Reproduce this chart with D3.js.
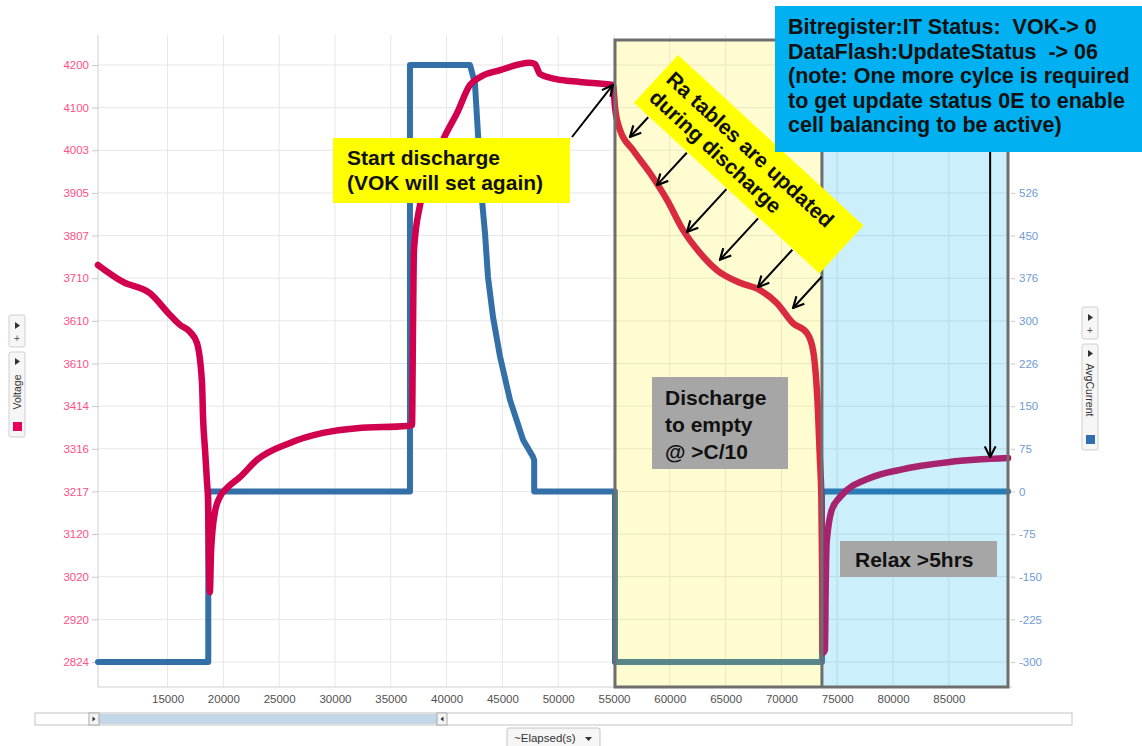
<!DOCTYPE html>
<html>
<head>
<meta charset="utf-8">
<script src="https://cdn.jsdelivr.net/npm/d3@7"></script>
<style>
  body { margin: 0; background: #fff; font-family: "Liberation Sans", Arial, sans-serif; }
  .note text { font-weight: bold; fill: #111; white-space: pre; }
</style>
</head>
<body>
<div class="svgs"></div>
<script>
// elapsed seconds / mV
const voltageTime = [8770, 11010, 13430, 15220, 16120, 17010, 17640, 18090, 18180, 18360, 18540, 18630,
  18710, 18790, 18900, 19250, 19700, 20330, 21490, 23020, 25970, 28930, 31970, 36450, 36900, 36990,
  37080, 37620, 38510, 39680, 40930, 42100, 42990, 44790, 47470, 47920, 48370, 49710, 51950, 54910,
  55090, 55540, 56700, 58220, 59750, 61180, 62700, 64230, 66290, 68080, 69600, 71030, 72290, 72830,
  73270, 73450, 73580, 73670, 73720, 73900, 73960, 74050, 74500, 75240, 77930, 80620, 85100, 90300]
const voltageMv = [3739, 3700, 3674, 3624, 3601, 3585, 3559, 3467, 3389, 3313, 3237, 3197,
  3060, 2985, 3080, 3170, 3205, 3225, 3250, 3290, 3329, 3352, 3363, 3368, 3370, 3589,
  3774, 3877, 3946, 4027, 4089, 4154, 4172, 4188, 4205, 4202, 4179, 4168, 4161, 4154,
  4103, 4050, 4004, 3951, 3889, 3820, 3767, 3727, 3698, 3681, 3651, 3605, 3582, 3543,
  3405, 3290, 3200, 2990, 2845, 2852, 2983, 3098, 3174, 3204, 3248, 3267, 3285, 3294]

// elapsed seconds / mA
const currentTime = [8770, 18650, 18650, 36720, 36720, 42100, 42540, 42810, 43170, 43440, 43710, 44160,
  44790, 45680, 46850, 47740, 47850, 47850, 55090, 55090, 73630, 73630, 90300]
const currentMa = [-300, -300, 0, 0, 750, 750, 718, 630, 513, 455, 377, 307,
  237, 161, 91, 61, 55, 0, 0, -300, -300, 0, 0]

const elapsedTicks = [15000, 20000, 25000, 30000, 35000, 40000, 45000, 50000, 55000, 60000, 65000, 70000, 75000, 80000, 85000]
const voltageTickLabels = ["2824", "2920", "3020", "3120", "3217", "3316", "3414", "3610", "3610", "3710", "3807", "3905", "4003", "4100", "4200"]
const currentTickValues = [-300, -225, -150, -75, 0, 75, 150, 225, 300, 375, 450, 525, 600, 675, 750]
// top three labels sit under the blue note
const currentTickLabels = ["-300", "-225", "-150", "-75", "0", "75", "150", "226", "300", "376", "450", "526", "", "", ""]

// test phases (elapsed seconds)
const phaseStart = [55090, 73630]
const phaseEnd = [73630, 90300]
const phaseFill = ["#fff000", "#00b0f0"]
const phaseAlpha = [0.18, 0.2]

// arrow tips on the voltage curve
const raTipTime = [56430, 58850, 61540, 64490, 67900, 71040]
const raTipMv = [4034, 3923, 3815, 3751, 3688, 3640]

const W = 1142, H = 746
const plot = {left: 98, right: 1008, top: 35, bottom: 687}

const voltage = voltageTime.map((t, i) => ({t, v: voltageMv[i]}))
const current = currentTime.map((t, i) => ({t, v: currentMa[i]}))

const x = d3.scaleLinear().domain([8770, 90300]).range([plot.left, plot.right])
const yV = d3.scaleLinear().domain([2824, 4200]).range([662, 65])
const yI = d3.scaleLinear().domain([-300, 750]).range([662, 65])
const voltageTicks = voltageTickLabels.map((d, i) => 2824 + i * (4200 - 2824) / 14)

const svg = d3.create("svg")
    .attr("width", W)
    .attr("height", H)
    .attr("viewBox", [0, 0, W, H])
    .style("font-family", '"Liberation Sans", Arial, sans-serif')

const defs = svg.append("defs")
defs.append("marker")
    .attr("id", "arrow")
    .attr("viewBox", "0 0 12 12")
    .attr("refX", 11).attr("refY", 6)
    .attr("markerWidth", 13).attr("markerHeight", 13)
    .attr("markerUnits", "userSpaceOnUse")
    .attr("orient", "auto")
  .append("path")
    .attr("d", "M1,1 L11,6 L1,11")
    .attr("fill", "none")
    .attr("stroke", "#000")
    .attr("stroke-width", 2)

// grid
svg.append("g")
    .selectAll("line")
    .data(elapsedTicks)
    .join("line")
    .attr("x1", d => x(d)).attr("x2", d => x(d))
    .attr("y1", plot.top).attr("y2", plot.bottom)
    .attr("stroke", "#e7e7e7")

svg.append("g")
    .selectAll("line")
    .data(currentTickValues)
    .join("line")
    .attr("x1", plot.left).attr("x2", plot.right)
    .attr("y1", d => yI(d)).attr("y2", d => yI(d))
    .attr("stroke", "#e7e7e7")

// frame lines
svg.append("line")
    .attr("x1", plot.left).attr("x2", plot.left)
    .attr("y1", plot.top).attr("y2", plot.bottom)
    .attr("stroke", "#cfcfcf")
svg.append("line")
    .attr("x1", plot.left).attr("x2", plot.right + 4)
    .attr("y1", plot.bottom).attr("y2", plot.bottom)
    .attr("stroke", "#cfcfcf")

// axes
svg.append("g")
    .attr("transform", `translate(${plot.left},0)`)
    .call(d3.axisLeft(yV).tickValues(voltageTicks).tickFormat((d, i) => voltageTickLabels[i]).tickSize(6).tickPadding(3))
    .call(g => g.select(".domain").remove())
    .call(g => g.selectAll(".tick line").attr("stroke", "#c8c8c8"))
    .call(g => g.selectAll(".tick text").attr("fill", "#ff4f86").style("font-size", "11.5px"))

svg.append("g")
    .attr("transform", `translate(${plot.right + 3},0)`)
    .call(d3.axisRight(yI).tickValues(currentTickValues).tickFormat((d, i) => currentTickLabels[i]).tickSize(4).tickPadding(4))
    .call(g => g.select(".domain").remove())
    .call(g => g.selectAll(".tick line").attr("stroke", "#c8c8c8"))
    .call(g => g.selectAll(".tick text").attr("fill", "#6f9bd6").style("font-size", "11.5px"))

svg.append("g")
    .attr("transform", `translate(0,${plot.bottom})`)
    .call(d3.axisBottom(x).tickValues(elapsedTicks).tickFormat(d3.format("d")).tickSize(0).tickPadding(8))
    .call(g => g.select(".domain").remove())
    .call(g => g.selectAll(".tick text").attr("fill", "#505050").style("font-size", "11.5px"))

// series
const currentLine = d3.line()
    .x(d => x(d.t))
    .y(d => yI(d.v))

const voltageLine = d3.line()
    .x(d => x(d.t))
    .y(d => yV(d.v))
    .curve(d3.curveMonotoneX)

svg.append("path")
    .datum(current)
    .attr("fill", "none")
    .attr("stroke", "#3470a8")
    .attr("stroke-width", 6)
    .attr("stroke-linejoin", "round")
    .attr("stroke-linecap", "round")
    .attr("d", currentLine)

svg.append("path")
    .datum(voltage)
    .attr("fill", "none")
    .attr("stroke", "#d1004e")
    .attr("stroke-width", 6.5)
    .attr("stroke-linejoin", "round")
    .attr("stroke-linecap", "round")
    .attr("d", voltageLine)

// phase overlays
svg.append("g")
    .selectAll("rect")
    .data(phaseStart)
    .join("rect")
    .attr("x", d => x(d))
    .attr("y", plot.top + 5)
    .attr("width", (d, i) => x(phaseEnd[i]) - x(d))
    .attr("height", plot.bottom - plot.top - 5)
    .attr("fill", (d, i) => phaseFill[i])
    .attr("fill-opacity", (d, i) => phaseAlpha[i])

svg.append("rect")
    .attr("x", x(phaseStart[0]))
    .attr("y", plot.top + 5)
    .attr("width", x(phaseEnd[1]) - x(phaseStart[0]))
    .attr("height", plot.bottom - plot.top - 5)
    .attr("fill", "none")
    .attr("stroke", "#6e6e6e")
    .attr("stroke-width", 3)
svg.append("line")
    .attr("x1", x(phaseStart[1])).attr("x2", x(phaseStart[1]))
    .attr("y1", plot.top + 5).attr("y2", plot.bottom)
    .attr("stroke", "#6e6e6e")
    .attr("stroke-width", 3)

// annotations
const note = svg.append("g").attr("class", "note").style("font-size", "21px")

function box(g, bx, by, bw, bh, fill, lines, tx, ty0, dy) {
    g.append("rect").attr("x", bx).attr("y", by).attr("width", bw).attr("height", bh).attr("fill", fill)
    lines.forEach((t, i) => g.append("text").attr("x", tx).attr("y", ty0 + i * dy).text(t))
}

// start discharge
box(note, 333, 138, 237, 65, "#ffff00", ["Start discharge", "(VOK will set again)"], 347, 165, 25)
note.append("line")
    .attr("x1", 572).attr("y1", 137)
    .attr("x2", x(54900)).attr("y2", yV(4154))
    .attr("stroke", "#000").attr("stroke-width", 2)
    .attr("marker-end", "url(#arrow)")

// Ra tables box, rotated
const ang = 42.6, ra = ang * Math.PI / 180, ox = 678, oy = 55
const raG = note.append("g").attr("transform", `translate(${ox},${oy}) rotate(${ang})`)
box(raG, 0, 0, 252, 65, "#ffff00", ["Ra tables are updated", "during discharge"], 8, 28, 25)
raTipTime.forEach((t, i) => {
    const px = x(t) - ox, py = yV(raTipMv[i]) - oy
    const lx = px * Math.cos(ra) + py * Math.sin(ra)
    const ly = -px * Math.sin(ra) + py * Math.cos(ra)
    raG.append("line")
        .attr("x1", lx).attr("y1", 66)
        .attr("x2", lx).attr("y2", ly)
        .attr("stroke", "#000").attr("stroke-width", 2)
        .attr("marker-end", "url(#arrow)")
})

box(note, 652, 377, 136, 92, "#a6a6a6", ["Discharge", "to empty", "@ >C/10"], 665, 405, 27)
box(note, 840, 541, 157, 36, "#a6a6a6", ["Relax >5hrs"], 855, 567, 0)

note.append("line")
    .attr("x1", x(88700)).attr("y1", 150)
    .attr("x2", x(88700)).attr("y2", yV(3296))
    .attr("stroke", "#000").attr("stroke-width", 2)
    .attr("marker-end", "url(#arrow)")

const blue = note.append("g").style("font-size", "21.5px")
box(blue, 775, 6, 380, 146, "#00b0f0",
    ["Bitregister:IT Status:  VOK-> 0", "DataFlash:UpdateStatus  -> 06", "(note: One more cylce is required",
     "to get update status 0E to enable", "cell balancing to be active)"], 788, 34, 24.5)

// side legend controls
function legend(gx, label, color, rot) {
    const g = svg.append("g").style("font-size", "10px")
    const top = rot < 0 ? 315 : 307
    g.append("rect").attr("x", gx).attr("y", top).attr("width", 16).attr("height", 32)
        .attr("rx", 2).attr("fill", "#f6f6f6").attr("stroke", "#cfcfcf")
    g.append("path").attr("d", `M${gx + 6},${top + 7} l5,3.5 l-5,3.5z`).attr("fill", "#333")
    g.append("text").attr("x", gx + 8).attr("y", top + 27).attr("text-anchor", "middle").attr("fill", "#555").text("+")
    const t2 = top + 37, h2 = rot < 0 ? 85 : 106
    g.append("rect").attr("x", gx).attr("y", t2).attr("width", 16).attr("height", h2)
        .attr("rx", 2).attr("fill", "#f6f6f6").attr("stroke", "#cfcfcf")
    g.append("path").attr("d", `M${gx + 6},${t2 + 6} l5,3.5 l-5,3.5z`).attr("fill", "#333")
    g.append("rect").attr("x", gx + 4).attr("y", t2 + h2 - 15).attr("width", 9).attr("height", 9).attr("fill", color)
    const cy = rot < 0 ? t2 + 40 : t2 + 46
    g.append("text")
        .attr("transform", `translate(${gx + 8},${cy}) rotate(${rot})`)
        .attr("text-anchor", "middle").attr("dy", "0.35em")
        .attr("fill", "#333").style("font-size", "10.5px")
        .text(label)
}
legend(9, "Voltage", "#e8005a", -90)
legend(1082, "AvgCurrent", "#2f6fb0", 90)

// range scrollbar
const sb = svg.append("g")
sb.append("rect").attr("x", 35).attr("y", 713).attr("width", 1037).attr("height", 12)
    .attr("fill", "#fff").attr("stroke", "#c4c4c4")
sb.append("rect").attr("x", 99).attr("y", 714).attr("width", 338).attr("height", 10).attr("fill", "#c4d7e6")
sb.append("rect").attr("x", 89).attr("y", 713).attr("width", 10).attr("height", 12).attr("fill", "#f4f4f4").attr("stroke", "#aaa")
sb.append("path").attr("d", "M92.5,716.5 l3,2.5 l-3,2.5z").attr("fill", "#333")
sb.append("rect").attr("x", 437).attr("y", 713).attr("width", 10).attr("height", 12).attr("fill", "#f4f4f4").attr("stroke", "#aaa")
sb.append("path").attr("d", "M443.5,716.5 l-3,2.5 l3,2.5z").attr("fill", "#333")

const dd = svg.append("g")
dd.append("rect").attr("x", 507).attr("y", 728).attr("width", 93).attr("height", 20)
    .attr("rx", 2).attr("fill", "#f6f6f6").attr("stroke", "#c4c4c4")
dd.append("text").attr("x", 514).attr("y", 742).attr("fill", "#333").style("font-size", "11.5px").text("~Elapsed(s)")
dd.append("path").attr("d", "M585,737 l7,0 l-3.5,4z").attr("fill", "#333")

document.querySelector(".svgs").appendChild(svg.node())
</script>
</body>
</html>
